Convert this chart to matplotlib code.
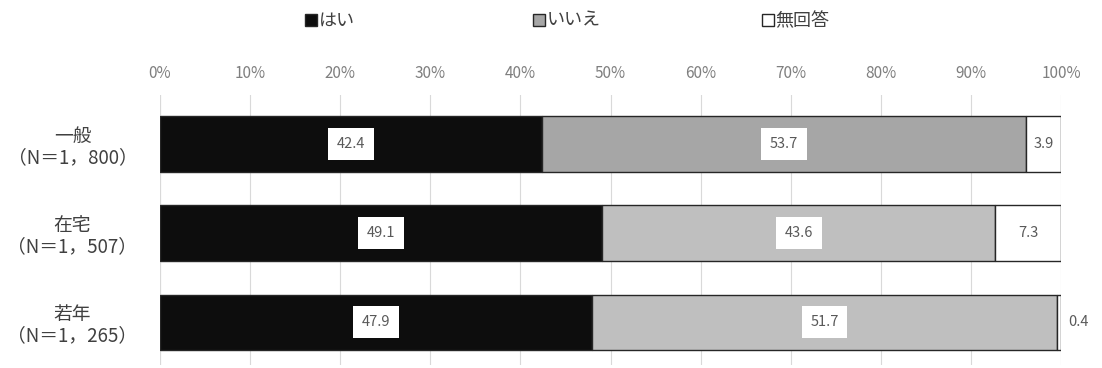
import numpy as np
import matplotlib.pyplot as plt
from matplotlib.patches import Patch

plt.rcParams['font.family'] = ['Noto Sans CJK JP', 'DejaVu Sans']

groups = ['一般\n（N＝1，800）', '在宅\n（N＝1，507）', '若年\n（N＝1，265）']
yes = [42.4, 49.1, 47.9]
no = [53.7, 43.6, 51.7]
na = [3.9, 7.3, 0.4]
legend_labels = ['はい', 'いいえ', '無回答']

yes_color = '#0d0d0d'
no_colors = ['#a6a6a6', '#bfbfbf', '#bfbfbf']
na_color = 'white'
txt = '#595959'

fig = plt.figure(figsize=(11.02, 3.68), dpi=100)
ax = fig.add_axes([160 / 1102, 3 / 368, 901 / 1102, 270 / 368])

y = np.arange(len(groups))
h = 0.62
yes = np.array(yes)
no = np.array(no)
na = np.array(na)

ax.barh(y, yes, height=h, color=yes_color, edgecolor='#262626', linewidth=1, zorder=3)
ax.barh(y, no, left=yes, height=h, color=no_colors, edgecolor='#262626', linewidth=1, zorder=3)
ax.barh(y, na, left=yes + no, height=h, color=na_color, edgecolor='#262626', linewidth=1, zorder=3)

box = dict(boxstyle='square,pad=0.6', facecolor='white', edgecolor='none')
for i in range(len(groups)):
    ax.text(yes[i] / 2, y[i], f'{yes[i]:.1f}', ha='center', va='center',
            fontsize=10.5, color=txt, bbox=box, zorder=4)
    ax.text(yes[i] + no[i] / 2, y[i], f'{no[i]:.1f}', ha='center', va='center',
            fontsize=10.5, color=txt, bbox=box, zorder=4)
    if na[i] >= 2:
        ax.text(yes[i] + no[i] + na[i] / 2, y[i], f'{na[i]:.1f}', ha='center',
                va='center', fontsize=10.5, color=txt, zorder=4)
    else:
        ax.text(yes[i] + no[i] + na[i] + 0.8, y[i], f'{na[i]:.1f}', ha='left',
                va='center', fontsize=10.5, color=txt, zorder=4)

ax.set_xlim(0, 100)
ax.set_ylim(2.48, -0.55)
ax.set_xticks(np.arange(0, 101, 10))
ax.set_xticklabels([f'{v}%' for v in range(0, 101, 10)])
ax.xaxis.tick_top()
ax.tick_params(axis='x', length=0, labelsize=11, colors='#7f7f7f', pad=9)
ax.set_yticks(y)
ax.set_yticklabels(groups)
ax.tick_params(axis='y', length=0, labelsize=13.5, colors='#404040', pad=63)
for lbl in ax.get_yticklabels():
    lbl.set_ha('center')
    lbl.set_multialignment('center')
    lbl.set_linespacing(1.05)
ax.grid(axis='x', color='#d9d9d9', linewidth=0.8, zorder=0)
for s in ax.spines.values():
    s.set_visible(False)
ax.axvline(0, color='#d9d9d9', linewidth=0.8, zorder=0)

# legend entries placed one by one, like the original layout
legend_faces = [yes_color, '#a6a6a6', 'white']
legend_x = [305, 533, 762]
for lab, fc, lx in zip(legend_labels, legend_faces, legend_x):
    leg = fig.legend(handles=[Patch(facecolor=fc, edgecolor='#262626', label=lab)],
                     loc='center left', bbox_to_anchor=(lx / 1102, 1 - 21 / 368),
                     frameon=False, fontsize=13, handlelength=0.65, handleheight=0.65,
                     handletextpad=0.1, borderpad=0, borderaxespad=0,
                     labelcolor='#404040')

fig.savefig('out.png', dpi=100)
